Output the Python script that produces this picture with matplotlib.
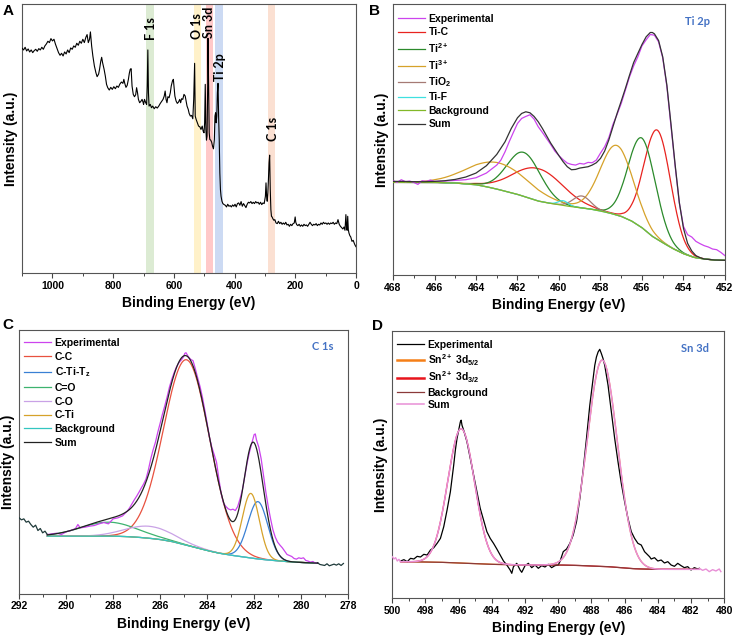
import numpy as np
import matplotlib
matplotlib.use('Agg')
import matplotlib.pyplot as plt
from matplotlib.ticker import MultipleLocator
from matplotlib.lines import Line2D

plt.rcParams['font.family'] = ['Liberation Sans', 'DejaVu Sans']
plt.rcParams['mathtext.fontset'] = 'custom'
plt.rcParams['mathtext.rm'] = 'Liberation Sans'
plt.rcParams['mathtext.bf'] = 'Liberation Sans:bold'
plt.rcParams['mathtext.it'] = 'Liberation Sans:italic'

# ---------------- Panel A: survey ----------------
survey_be = [1100, 1095, 1090, 1085, 1080, 1075, 1070, 1065, 1060, 1055, 1050, 1045, 1040, 1035, 1030,
             1025, 1020, 1015, 1010, 1005, 1000, 995, 990, 985, 980, 975, 970, 965, 960, 955, 950, 945,
             940, 935, 930, 925, 920, 915, 910, 905, 900, 895, 890, 886, 882, 878, 875, 871, 867, 862,
             857, 853, 848, 845, 841, 838, 835, 830, 826, 822, 818, 813, 808, 803, 798, 793, 788, 783,
             778, 773, 768, 765, 762, 758, 754, 750, 747, 744, 741, 738, 734, 730, 726, 723, 720, 717,
             713, 709, 705, 702, 700, 697, 693, 690, 688, 686, 684, 682, 678, 674, 670, 665, 660, 655,
             650, 645, 640, 636, 632, 629, 626, 623, 620, 616, 612, 609, 605, 602, 600, 597, 593, 589,
             585, 581, 578, 575, 571, 567, 563, 560, 557, 553, 550, 546, 542, 538, 535, 532, 530, 527,
             523, 519, 515, 511, 507, 504, 501, 499, 497, 495, 493, 491, 489, 488, 486, 484, 482, 479,
             476, 473, 470, 467, 465, 463, 461, 459, 457, 455, 453, 451, 449, 447, 445, 442, 439, 435,
             431, 427, 423, 419, 415, 411, 407, 403, 399, 395, 391, 387, 383, 379, 375, 371, 367, 363,
             359, 355, 351, 347, 343, 339, 335, 331, 327, 323, 319, 315, 311, 307, 303, 299, 297, 295,
             293, 291, 289, 287, 285, 283, 281, 279, 277, 274, 271, 268, 264, 260, 256, 252, 248, 244,
             240, 236, 232, 228, 224, 220, 216, 212, 208, 204, 201, 199, 196, 192, 188, 184, 180, 176,
             172, 168, 164, 160, 156, 152, 148, 144, 140, 136, 132, 128, 124, 120, 116, 112, 108, 104,
             100, 96, 92, 88, 84, 80, 76, 72, 68, 64, 60, 56, 52, 48, 44, 40, 37, 34, 32, 30, 28, 26,
             24, 21, 18, 14, 10, 6, 3, 0]
survey_int = [673, 668, 676, 665, 671, 662, 668, 660, 666, 670, 664, 672, 668, 676, 670,
              680, 686, 694, 690, 702, 695, 700, 685, 672, 660, 652, 658, 650, 662, 656, 668, 660,
              674, 670, 680, 676, 688, 682, 694, 688, 700, 690, 706, 714, 690, 700, 722, 680, 650, 620,
              600, 588, 596, 610, 634, 646, 630, 610, 590, 565, 555, 548, 556, 550, 558, 552, 560, 556,
              566, 572, 568, 580, 568, 556, 562, 580, 598, 610, 612, 560, 535, 528, 534, 555, 540, 520,
              510, 514, 520, 512, 505, 520, 510, 505, 560, 668, 540, 500, 505, 495, 500, 492, 498, 494,
              500, 508, 515, 520, 530, 545, 520, 510, 528, 525, 540, 560, 575, 580, 560, 530, 515, 508,
              512, 520, 510, 522, 520, 535, 530, 515, 500, 490, 478, 470, 472, 462, 520, 628, 470, 460,
              450, 440, 438, 430, 440, 425, 420, 450, 565, 430, 398, 410, 560, 703, 560, 420, 400, 398,
              392, 380, 372, 400, 470, 480, 450, 470, 540, 568, 470, 400, 300, 250, 230, 215, 208, 205,
              203, 198, 206, 200, 202, 198, 204, 200, 206, 198, 208, 210, 203, 214, 200, 208, 202, 196,
              206, 212, 210, 214, 208, 212, 208, 214, 210, 212, 206, 212, 205, 210, 208, 230, 270, 230,
              215, 240, 280, 330, 353, 250, 190, 170, 168, 162, 158, 160, 150, 148, 155, 148, 152, 146,
              150, 146, 152, 144, 146, 140, 146, 142, 148, 150, 168, 152, 145, 142, 146, 140, 144, 140,
              146, 142, 144, 140, 146, 152, 146, 142, 146, 144, 148, 142, 146, 144, 150, 146, 152, 148,
              150, 146, 150, 146, 150, 148, 152, 146, 150, 148, 160, 146, 140, 136, 132, 138, 128, 175,
              140, 128, 170, 130, 120, 112, 108, 95, 98, 88, 82, 78]
band_labels = ['F 1s', 'O 1s', 'Sn 3d', 'Ti 2p', 'C 1s']
band_lo = [667, 510, 470, 439, 267]
band_hi = [691, 535, 495, 464, 289]
band_colors = ['#dcebd3', '#fff1c9', '#ffc9c9', '#ccdaf3', '#fbe0d2']
band_text_be = [674, 524, 485, 448, 275]
band_text_y = [733, 741, 751, 618, 433]

# ---------------- Panel B: Ti 2p ----------------
ti_be = [468.0, 467.8, 467.6, 467.4, 467.2, 467.0, 466.8, 466.6, 466.4, 466.2, 466.0, 465.5, 465.0,
         464.5, 464.0, 463.5, 463.0, 462.8, 462.6, 462.4, 462.2, 462.0, 461.8, 461.6, 461.4, 461.2,
         461.0, 460.8, 460.6, 460.4, 460.2, 460.0, 459.8, 459.6, 459.4, 459.2, 459.0, 458.8, 458.6,
         458.4, 458.2, 458.0, 457.8, 457.6, 457.4, 457.2, 457.0, 456.8, 456.6, 456.4, 456.2, 456.0,
         455.8, 455.6, 455.4, 455.2, 455.0, 454.8, 454.6, 454.4, 454.2, 454.0, 453.8, 453.6, 453.4,
         453.2, 453.0, 452.8, 452.6, 452.4, 452.2, 452.0]
ti_int = [283, 278, 286, 280, 282, 278, 272, 283, 281, 285, 281, 282, 284,
          286, 292, 306, 330, 345, 370, 400, 428, 455, 470, 476, 481, 468,
          445, 428, 410, 392, 372, 358, 346, 336, 332, 330, 335, 333, 338,
          337, 345, 366, 385, 412, 452, 482, 515, 555, 595, 628, 655, 688,
          706, 722, 720, 700, 652, 566, 446, 326, 216, 146, 121, 114, 101,
          94, 88, 84, 78, 76, 68, 58]
ti_sum_be = [468.0, 467.5, 467.0, 466.5, 466.0, 465.5, 465.0, 464.5, 464.0, 463.5, 463.0, 462.6, 462.3,
             462.0, 461.8, 461.6, 461.4, 461.2, 461.0, 460.8, 460.6, 460.4, 460.2, 460.0, 459.8, 459.6,
             459.4, 459.2, 459.0, 458.8, 458.6, 458.4, 458.2, 458.0, 457.8, 457.6, 457.4, 457.2, 457.0,
             456.8, 456.6, 456.4, 456.2, 456.0, 455.8, 455.6, 455.5, 455.4, 455.2, 455.0, 454.8, 454.6,
             454.4, 454.2, 454.0, 453.8, 453.6, 453.4, 453.2, 453.0, 452.5, 452.0]
ti_sum_int = [281, 281, 280, 280, 281, 283, 287, 294, 306, 328, 362, 400, 440,
              472, 485, 490, 487, 476, 460, 440, 418, 396, 377, 358, 340, 325,
              316, 317, 321, 323, 325, 330, 337, 350, 372, 405, 445, 485, 522,
              560, 600, 638, 665, 692, 715, 728, 728, 724, 704, 655, 570, 452,
              330, 218, 140, 95, 72, 58, 52, 48, 45, 44]
ti_bg_be = [468.0, 466.0, 465.0, 464.0, 463.5, 463.0, 462.5, 462.0, 461.5, 461.0, 460.5, 460.0, 459.5,
            459.0, 458.5, 458.0, 457.5, 457.0, 456.5, 456.0, 455.5, 455.0, 454.5, 454.0, 453.5, 453.0,
            452.5, 452.0]
ti_bg_int = [278, 278, 276, 271, 265, 258, 250, 242, 232, 222, 216, 211, 206,
             202, 198, 192, 185, 176, 162, 142, 116, 97, 79, 64, 53, 48, 45, 44]
ti_names = ['Ti-C', r'Ti$^{\mathbf{2+}}$', r'Ti$^{\mathbf{3+}}$', r'TiO$_{\mathbf{2}}$', 'Ti-F']
ti_colors = ['#e8231f', '#2b8a2b', '#d6a22a', '#a57a74', '#3fe0e0']
tic_center = [455.26, 461.0]
tic_height = [328, 97]
tic_fwhm = [1.5, 2.8]
ti2_center = [456.0, 461.7]
ti2_height = [269, 132]
ti2_fwhm = [1.55, 1.9]
ti3_center = [457.22, 462.9]
ti3_height = [209, 80]
ti3_fwhm = [1.85, 3.4]
tio2_center = [458.9]
tio2_height = [36]
tio2_fwhm = [1.0]
tif_center = [459.8]
tif_height = [14]
tif_fwhm = [0.55]

# ---------------- Panel C: C 1s ----------------
c_be = [292.0, 291.9, 291.8, 291.7, 291.6, 291.5, 291.4, 291.3, 291.2, 291.1, 291.0, 290.9, 290.8,
        290.6, 290.4, 290.2, 290.0, 289.8, 289.6, 289.5, 289.4, 289.2, 289.0, 288.8, 288.6, 288.4,
        288.2, 288.0, 287.8, 287.6, 287.4, 287.3, 287.2, 287.1, 287.0, 286.9, 286.8, 286.7, 286.6,
        286.5, 286.4, 286.3, 286.2, 286.1, 286.0, 285.9, 285.8, 285.7, 285.6, 285.5, 285.4, 285.3,
        285.2, 285.1, 285.0, 284.95, 284.9, 284.8, 284.7, 284.6, 284.5, 284.4, 284.3, 284.2, 284.1,
        284.0, 283.9, 283.8, 283.7, 283.6, 283.5, 283.4, 283.3, 283.2, 283.1, 283.0, 282.9, 282.8,
        282.7, 282.6, 282.5, 282.4, 282.3, 282.2, 282.1, 282.0, 281.95, 281.9, 281.8, 281.7, 281.6,
        281.5, 281.4, 281.3, 281.2, 281.1, 281.0, 280.9, 280.8, 280.7, 280.6, 280.5, 280.4, 280.3,
        280.2, 280.1, 280.0, 279.9, 279.8, 279.7, 279.6, 279.5, 279.4, 279.3, 279.2, 279.0, 278.9,
        278.8, 278.6, 278.5, 278.4, 278.3, 278.2]
c_int = [228, 222, 225, 215, 218, 208, 200, 206, 190, 196, 183, 188, 178,
         180, 182, 178, 186, 190, 196, 208, 198, 200, 203, 205, 210, 214,
         210, 225, 228, 234, 248, 258, 270, 282, 293, 305, 318, 330, 345,
         372, 405, 432, 455, 485, 512, 540, 565, 592, 622, 645, 665, 682,
         694, 702, 712, 722, 724, 712, 704, 700, 675, 648, 622, 590, 552,
         512, 470, 440, 418, 395, 345, 300, 272, 262, 255, 252, 254, 250,
         262, 285, 312, 352, 392, 425, 452, 478, 480, 462, 440, 405, 355,
         305, 262, 225, 192, 170, 155, 146, 138, 128, 118, 115, 112, 106,
         104, 108, 106, 108, 100, 98, 95, 97, 92, 93, 88, 85, 90,
         84, 89, 86, 90, 85, 91]
c_fit_lo, c_fit_hi = 279.3, 290.8
c_bg_be = [290.8, 290.0, 289.0, 288.0, 287.5, 287.0, 286.5, 286.0, 285.5, 285.0, 284.5, 284.0, 283.5,
           283.0, 282.5, 282.0, 281.5, 281.0, 280.5, 280.0, 279.3]
c_bg_int = [173, 173, 173, 173, 172, 170, 167, 163, 157, 148, 139, 130, 122,
            116, 111, 106, 102, 99, 96, 94, 92]
c_names = ['C-C', r'C-Ti-T$_{\mathbf{z}}$', 'C=O', 'C-O', 'C-Ti']
c_colors = ['#e8513f', '#3a80d4', '#3db36f', '#c9a2e6', '#d6a22a']
c_center = [284.87, 281.84, 288.2, 286.45, 282.14]
c_height = [557, 172, 42, 36, 194]
c_fwhm = [2.3, 1.0, 2.8, 2.4, 0.85]

# ---------------- Panel D: Sn 3d ----------------
sn_be = [499.5, 499.3, 499.1, 498.9, 498.7, 498.5, 498.3, 498.1, 497.9, 497.7, 497.5, 497.3, 497.1,
         496.9, 496.7, 496.5, 496.3, 496.2, 496.1, 496.0, 495.9, 495.85, 495.8, 495.7, 495.5, 495.3,
         495.1, 494.9, 494.7, 494.5, 494.3, 494.1, 493.9, 493.7, 493.5, 493.3, 493.1, 492.9, 492.8,
         492.7, 492.5, 492.3, 492.2, 492.0, 491.8, 491.6, 491.4, 491.2, 491.0, 490.8, 490.6, 490.4,
         490.2, 490.0, 489.9, 489.7, 489.5, 489.3, 489.1, 488.9, 488.7, 488.5, 488.3, 488.1, 487.9,
         487.8, 487.7, 487.6, 487.5, 487.4, 487.3, 487.2, 487.0, 486.8, 486.6, 486.4, 486.2, 486.0,
         485.8, 485.6, 485.4, 485.2, 485.0, 484.8, 484.6, 484.5, 484.4, 484.2, 484.0, 483.8, 483.6,
         483.4, 483.2, 483.0, 482.8, 482.6, 482.4, 482.2, 482.0, 481.8, 481.6, 481.5]
sn_int = [112, 116, 110, 120, 118, 126, 124, 132, 130, 145, 152, 165, 180,
          215, 265, 320, 400, 445, 480, 505, 530, 535, 520, 505, 470, 420,
          370, 320, 270, 235, 200, 180, 165, 148, 130, 112, 100, 85, 75,
          95, 105, 85, 78, 98, 105, 92, 100, 90, 98, 94, 102, 92,
          98, 100, 110, 140, 148, 165, 190, 230, 300, 385, 480, 580, 660,
          700, 725, 740, 748, 735, 720, 700, 640, 560, 480, 410, 345, 290,
          240, 200, 180, 165, 160, 140, 130, 125, 118, 122, 112, 115, 106,
          110, 100, 96, 105, 98, 92, 95, 85, 92, 88, 90]
sn_tail_left_be = [500.0, 499.9, 499.8, 499.7, 499.6, 499.5]
sn_tail_left_int = [125, 118, 122, 112, 117, 110]
sn_tail_right_be = [481.5, 481.3, 481.1, 480.9, 480.7, 480.5, 480.3, 480.2]
sn_tail_right_int = [90, 84, 88, 80, 86, 82, 88, 80]
sn_bg_be = [499.5, 498.0, 497.0, 496.0, 495.0, 494.0, 493.0, 492.0, 491.0, 490.0, 489.0, 488.0, 487.0,
            486.5, 486.0, 485.5, 485.0, 484.0, 483.0, 482.0, 481.5]
sn_bg_int = [110, 109, 108, 106, 104, 102, 101, 100, 100, 100, 99, 97, 95,
             93, 91, 89, 88, 87, 87, 87, 87]
sn_names = [r'Sn$^{\mathbf{2+}}$ 3d$_{\mathbf{5/2}}$', r'Sn$^{\mathbf{2+}}$ 3d$_{\mathbf{3/2}}$']
sn_colors = ['#f57f17', '#e8141c']
sn_center = [487.35, 495.85]
sn_height = [620, 404]
sn_fwhm = [2.15, 1.9]

EXP_COL = '#cc44ee'


def gauss(x, centers, heights, fwhms):
    y = np.zeros_like(x)
    for c, h, w in zip(centers, heights, fwhms):
        y = y + h * np.exp(-4 * np.log(2) * ((x - c) / w) ** 2)
    return y


def style(ax, xlim, ylim, major, minor):
    ax.set_xlim(*xlim)
    ax.set_ylim(*ylim)
    ax.xaxis.set_major_locator(MultipleLocator(major))
    ax.xaxis.set_minor_locator(MultipleLocator(minor))
    ax.set_yticks([])
    ax.tick_params(axis='x', which='major', direction='out', length=3.5, width=0.8,
                   color='#444444', labelsize=7.5, pad=2)
    ax.tick_params(axis='x', which='minor', direction='out', length=2, width=0.7, color='#444444')
    for lab in ax.get_xticklabels():
        lab.set_fontweight('bold')
    for s in ax.spines.values():
        s.set_color('#555555')
        s.set_linewidth(0.8)
    ax.set_xlabel('Binding Energy (eV)', fontsize=10, fontweight='bold', labelpad=4)
    ax.set_ylabel('Intensity (a.u.)', fontsize=10, fontweight='bold', labelpad=3)


def legend(ax, handles, labels, x0=-0.008, y0=0.985, spacing=0.4):
    leg = ax.legend(handles, labels, loc='upper left', bbox_to_anchor=(x0, y0), frameon=False,
                    prop={'size': 7.5, 'weight': 'bold'}, handlelength=2.6, handletextpad=0.35,
                    labelspacing=spacing, borderaxespad=0.3)
    return leg


fig = plt.figure(figsize=(7.36, 6.44), dpi=100)
axA = fig.add_axes([0.030, 0.576, 0.454, 0.418])
axB = fig.add_axes([0.534, 0.573, 0.451, 0.421])
axC = fig.add_axes([0.026, 0.078, 0.447, 0.410])
axD = fig.add_axes([0.533, 0.071, 0.451, 0.415])

# ---- A ----
for lo, hi, col in zip(band_lo, band_hi, band_colors):
    axA.axvspan(lo, hi, color=col, lw=0, zorder=0)
axA.plot(survey_be, survey_int, color='black', lw=0.8, zorder=3)
for t, x, y in zip(band_labels, band_text_be, band_text_y):
    axA.text(x, y, t, rotation=90, ha='center', va='center', fontsize=9,
             fontweight='bold', family=['Lato', 'DejaVu Sans'], zorder=4)
style(axA, (1100, 0), (0, 806), 200, 100)

# ---- B ----
xb = np.linspace(468, 452, 800)
bgb = np.interp(xb, ti_bg_be[::-1], ti_bg_int[::-1])
ti_params = [(tic_center, tic_height, tic_fwhm), (ti2_center, ti2_height, ti2_fwhm),
             (ti3_center, ti3_height, ti3_fwhm), (tio2_center, tio2_height, tio2_fwhm),
             (tif_center, tif_height, tif_fwhm)]
hb_exp, = axB.plot(ti_be, ti_int, color=EXP_COL, lw=0.9, zorder=4)
hcomp = []
for (c, h, w), col in zip(ti_params, ti_colors):
    comp = gauss(xb, c, h, w)
    hh, = axB.plot(xb, comp + bgb, color=col, lw=0.9, zorder=3)
    hcomp.append(hh)
hb_bg, = axB.plot(ti_bg_be, ti_bg_int, color='#82b828', lw=0.9, zorder=3)
hb_sum, = axB.plot(ti_sum_be, ti_sum_int, color='#333333', lw=0.9, zorder=5)
legend(axB, [hb_exp] + hcomp + [hb_bg, hb_sum],
       ['Experimental'] + ti_names + ['Background', 'Sum'], y0=0.99, spacing=0.33)
axB.text(0.955, 0.935, 'Ti 2p', transform=axB.transAxes, ha='right', va='center',
         color='#4472c4', fontsize=8, fontweight='bold', family=['Lato', 'DejaVu Sans'])
style(axB, (468, 452), (0, 814), 2, 1)

# ---- C ----
xc = np.linspace(c_fit_hi, c_fit_lo, 800)
bgc = np.interp(xc, c_bg_be[::-1], c_bg_int[::-1])
sumc = bgc.copy()
hc = []
for c, h, w, col in zip(c_center, c_height, c_fwhm, c_colors):
    comp = gauss(xc, [c], [h], [w])
    sumc = sumc + comp
    hh, = axC.plot(xc, comp + bgc, color=col, lw=0.9, zorder=3)
    hc.append(hh)
c_be_arr = np.array(c_be)
c_int_arr = np.array(c_int)
inside = (c_be_arr <= c_fit_hi) & (c_be_arr >= c_fit_lo)
hc_exp, = axC.plot(c_be_arr[inside], c_int_arr[inside], color=EXP_COL, lw=0.9, zorder=4)
left = c_be_arr >= c_fit_hi
right = c_be_arr <= c_fit_lo
axC.plot(c_be_arr[left], c_int_arr[left], color='#1f3a3a', lw=0.9, zorder=4)
axC.plot(c_be_arr[right], c_int_arr[right], color='#1f3a3a', lw=0.9, zorder=4)
hc_bg, = axC.plot(c_bg_be, c_bg_int, color='#33c6c0', lw=0.9, zorder=3)
hc_sum, = axC.plot(xc, sumc, color='#222222', lw=0.9, zorder=5)
legend(axC, [hc_exp] + hc + [hc_bg, hc_sum],
       ['Experimental'] + c_names + ['Background', 'Sum'], y0=0.997, spacing=0.36)
axC.text(0.955, 0.935, 'C 1s', transform=axC.transAxes, ha='right', va='center',
         color='#4472c4', fontsize=8, fontweight='bold', family=['Lato', 'DejaVu Sans'])
style(axC, (292, 278), (0, 793), 2, 1)

# ---- D ----
xd = np.linspace(499.5, 481.5, 800)
bgd = np.interp(xd, sn_bg_be[::-1], sn_bg_int[::-1])
sumd = bgd.copy()
hd = []
for c, h, w, col in zip(sn_center, sn_height, sn_fwhm, sn_colors):
    comp = gauss(xd, [c], [h], [w])
    sumd = sumd + comp
    axD.plot(xd, comp + bgd, color=col, lw=0.9, zorder=2)
    hd.append(Line2D([], [], color=col, lw=1.8))
hd_exp, = axD.plot(sn_be, sn_int, color='black', lw=0.9, zorder=3)
hd_bg, = axD.plot(sn_bg_be, sn_bg_int, color='#8b3a3a', lw=0.9, zorder=3)
SUM_D = '#e88fd6'
hd_sum, = axD.plot(xd, sumd, color=SUM_D, lw=1.1, zorder=4)
axD.plot(sn_tail_left_be, sn_tail_left_int, color=SUM_D, lw=1.0, zorder=4)
axD.plot(sn_tail_right_be, sn_tail_right_int, color=SUM_D, lw=1.0, zorder=4)
legend(axD, [hd_exp] + hd + [hd_bg, hd_sum],
       ['Experimental'] + sn_names + ['Background', 'Sum'], y0=0.995, spacing=0.22)
axD.text(0.955, 0.935, 'Sn 3d', transform=axD.transAxes, ha='right', va='center',
         color='#4472c4', fontsize=8, fontweight='bold', family=['Lato', 'DejaVu Sans'])
style(axD, (500, 480), (0, 803), 2, 1)

# panel letters
for t, x, y in [('A', 0.003, 0.983), ('B', 0.502, 0.983), ('C', 0.003, 0.495), ('D', 0.505, 0.494)]:
    fig.text(x, y, t, fontsize=11, fontweight='bold', va='center', ha='left')

fig.savefig('out.png', dpi=100)
